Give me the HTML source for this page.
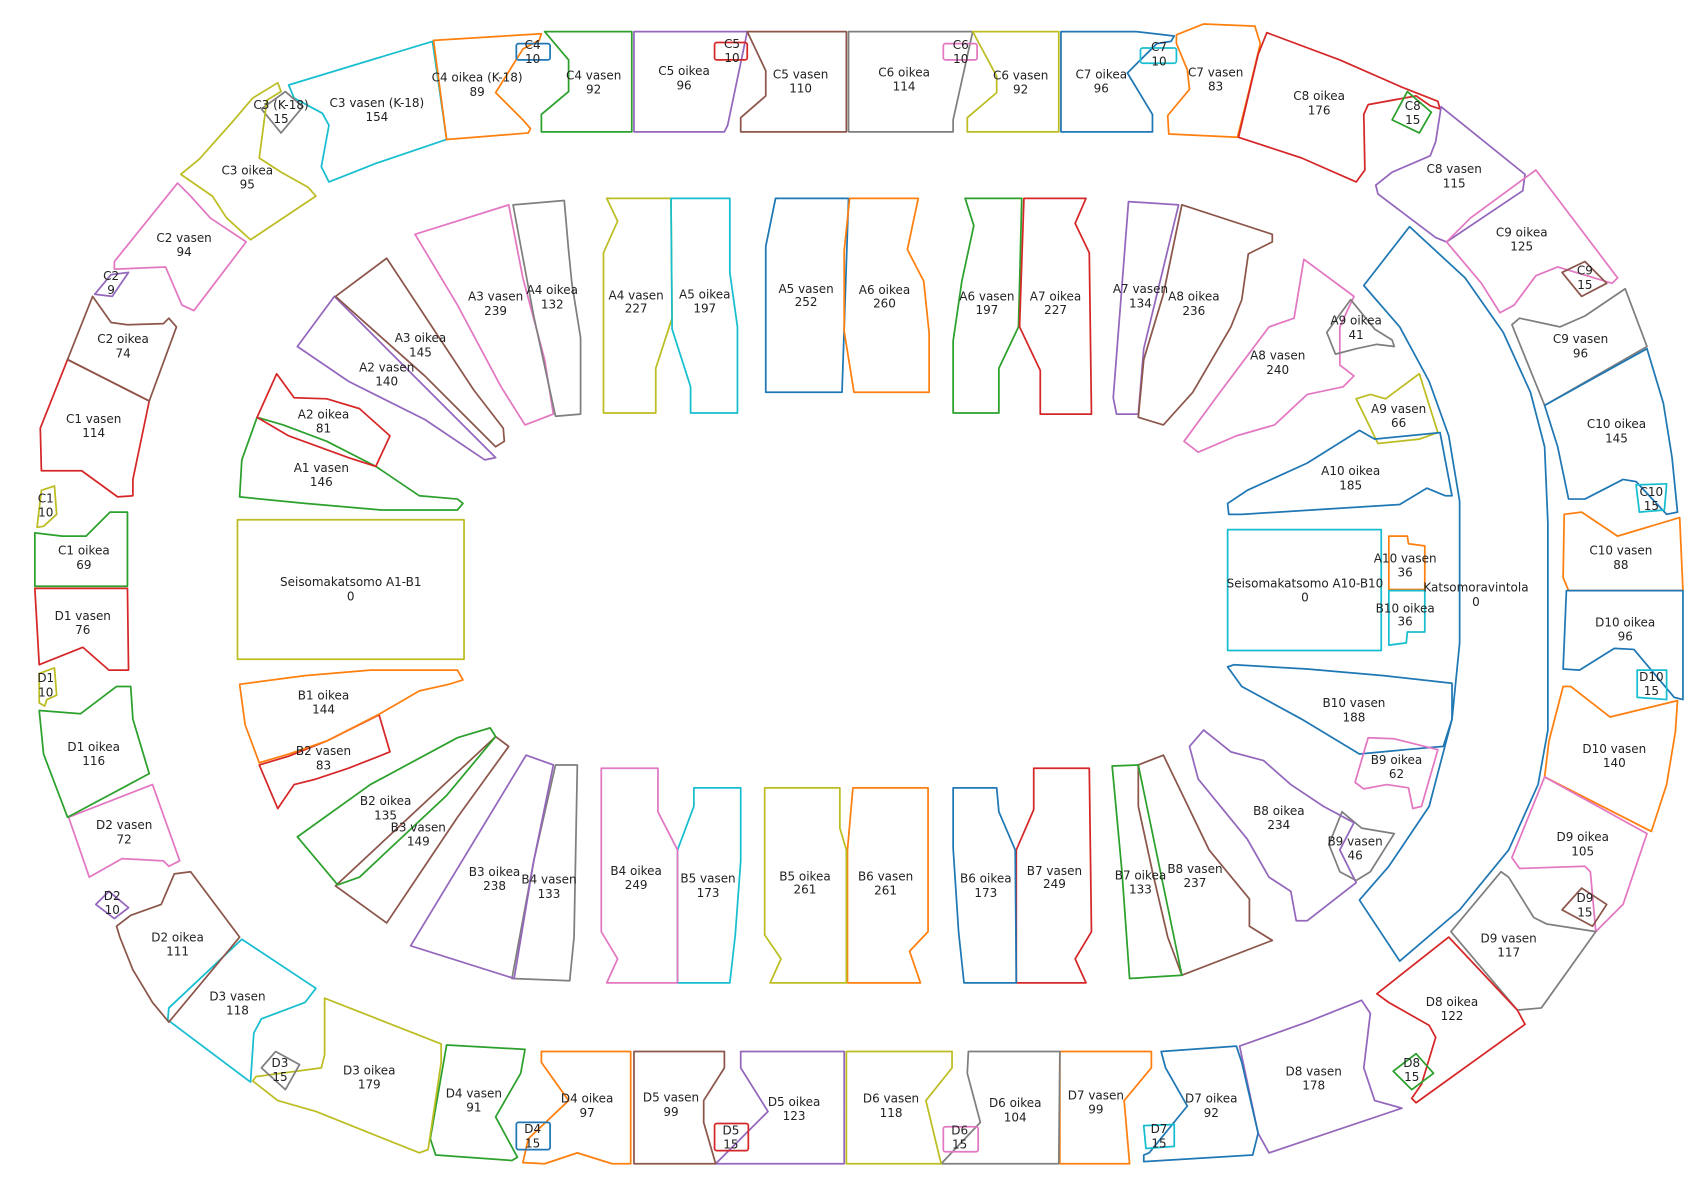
<!DOCTYPE html>
<html><head><meta charset="utf-8"><style>
html,body{margin:0;padding:0;background:#fff}
svg{display:block}
polygon,rect,path{fill:none;stroke-width:1.6;stroke-linejoin:round}
text{font-family:"DejaVu Sans","Liberation Sans",sans-serif;font-size:11px;fill:#222;text-anchor:middle}
.b{stroke:#1f77b4}.o{stroke:#ff7f0e}.g{stroke:#2ca02c}.r{stroke:#d62728}.p{stroke:#9467bd}.n{stroke:#8c564b}.k{stroke:#e377c2}.y{stroke:#7f7f7f}.l{stroke:#bcbd22}.c{stroke:#17becf}
</style></head><body>
<svg width="1708" height="1191" viewBox="0 0 1568 1093" preserveAspectRatio="none">
<!-- top C row -->
<polygon class="c" points="265,78 397,38 410,128 345,150 302,167 295,153 302,115 296,104 270,90"/>
<polygon class="y" points="240,100 262,84 278,98 258,122"/>
<polygon class="l" points="166,160 183,146 215,110 232,90 255,76 258,84 245,92 238,145 258,158 283,172 290,180 230,220 208,200 195,180"/>
<polygon class="o" points="398,37 497,31 495,37 480,45 455,85 480,110 487,118 485,122 410,128"/>
<rect class="b" x="474" y="40" width="31" height="15" rx="2"/>
<polygon class="g" points="500,29 580,29 580,121 497,121 497,105 522,84 522,55"/>
<polygon class="p" points="582,29 686,29 668,115 665,121 582,121"/>
<rect class="r" x="656" y="39" width="30" height="16" rx="2"/>
<polygon class="n" points="686,29 777,29 777,121 680,121 680,108 703,88 703,65"/>
<polygon class="y" points="779,29 893,29 875,110 875,121 779,121"/>
<rect class="k" x="866" y="40" width="31" height="15" rx="2"/>
<polygon class="l" points="893,29 972,29 972,121 888,121 888,108 915,85 915,70"/>
<polygon class="b" points="974,29 1043,29 1078,33 1075,38 1062,40 1035,67 1058,105 1058,121 974,121"/>
<rect class="c" x="1047" y="44" width="33" height="14" rx="2"/>
<polygon class="o" points="1080,32 1105,22 1152,24 1157,40 1145,90 1136,126 1073,123 1072,106 1092,82 1090,64 1080,40"/>
<polygon class="r" points="1137,126 1155,50 1163,30 1230,55 1287,80 1320,93 1322,100 1313,97 1300,88 1256,96 1252,105 1253,156 1245,167 1195,145"/>
<polygon class="g" points="1292,84 1314,103 1303,122 1278,110"/>
<polygon class="p" points="1323,98 1400,160 1398,175 1328,222 1318,218 1265,178 1263,170 1278,158 1313,143 1318,130"/>
<polygon class="k" points="1328,222 1350,200 1410,156 1485,255 1480,260 1430,245 1410,253 1390,280 1377,287 1360,260"/>
<polygon class="n" points="1434,250 1455,240 1475,260 1452,272"/>
<polygon class="y" points="1388,298 1395,292 1432,300 1455,290 1492,265 1512,318 1418,372"/>
<polygon class="b" points="1418,372 1512,320 1527,370 1535,420 1540,470 1530,472 1502,442 1490,440 1455,458 1440,458 1430,410"/>
<polygon class="c" points="1502,445 1530,444 1528,468 1505,470"/>
<polygon class="o" points="1436,472 1452,470 1485,492 1542,475 1545,542 1440,542 1435,530"/>
<polygon class="b" points="1438,542 1545,542 1545,642 1537,640 1500,596 1482,595 1450,615 1435,614"/>
<polygon class="c" points="1503,615 1530,615 1530,642 1503,640"/>
<polygon class="o" points="1435,630 1442,630 1478,658 1540,643 1538,672 1530,720 1516,763 1418,713 1422,680"/>
<polygon class="k" points="1418,713 1512,765 1490,830 1465,855 1460,800 1455,795 1395,797 1388,787"/>
<polygon class="n" points="1434,835 1452,815 1475,830 1462,850"/>
<polygon class="y" points="1332,855 1378,800 1385,805 1408,842 1420,848 1465,855 1415,925 1393,927"/>
<polygon class="r" points="1264,912 1330,860 1393,927 1400,940 1300,1012 1296,1008 1305,995 1318,952 1312,941 1275,920"/>
<polygon class="g" points="1279,983 1300,967 1316,985 1296,1000"/>
<polygon class="p" points="1138,960 1200,938 1250,918 1258,930 1252,980 1262,1010 1287,1017 1165,1058 1155,1040"/>
<polygon class="b" points="1066,965 1135,960 1140,975 1155,1040 1150,1060 1050,1066 1050,1060 1055,1058 1090,1015 1070,980"/>
<polygon class="c" points="1050,1033 1078,1032 1078,1052 1052,1054"/>
<polygon class="o" points="973,965 1057,965 1057,980 1032,1010 1037,1068 973,1068"/>
<polygon class="y" points="889,965 973,965 972,1068 864,1068 900,1030 888,985"/>
<rect class="k" x="866" y="1034" width="32" height="23" rx="2"/>
<polygon class="l" points="777,965 874,965 874,980 850,1010 864,1068 777,1068"/>
<polygon class="p" points="680,965 775,965 775,1068 657,1068 705,1020 680,980"/>
<rect class="r" x="656" y="1031" width="31" height="25" rx="2"/>
<polygon class="n" points="582,965 665,965 665,980 646,1010 646,1030 657,1068 582,1068"/>
<polygon class="o" points="497,965 579,965 579,1068 562,1068 530,1058 500,1068 480,1067 485,1045 522,1010 497,975"/>
<rect class="b" x="474" y="1030" width="31" height="25" rx="2"/>
<polygon class="g" points="410,959 482,963 478,985 455,1025 475,1062 470,1065 400,1060 395,1045"/>
<polygon class="l" points="298,916 405,958 405,975 393,1055 385,1058 290,1020 255,1010 232,992 235,988 295,980 298,968"/>
<polygon class="y" points="240,980 253,965 275,977 262,1000"/>
<polygon class="c" points="222,862 290,907 280,920 240,935 233,948 230,993 154,936 155,925"/>
<polygon class="n" points="160,802 175,800 220,860 155,938 140,920 122,890 110,860 107,850 120,840 148,830"/>
<polygon class="p" points="88,830 100,818 118,833 105,843"/>
<polygon class="k" points="63,750 140,720 165,790 155,795 150,790 112,788 82,805"/>
<polygon class="g" points="36,652 74,655 107,630 120,630 122,660 137,710 62,750 40,692"/>
<polygon class="l" points="36,618 50,613 52,638 43,642 41,648 36,645"/>
<polygon class="r" points="32,540 117,540 118,615 100,615 76,594 36,610"/>
<polygon class="g" points="32,489 57,492 79,492 101,470 117,470 117,538 32,538"/>
<polygon class="l" points="38,450 50,446 52,472 40,483 34,484"/>
<polygon class="r" points="37,393 62,330 137,368 122,440 122,455 108,456 75,432 38,432"/>
<polygon class="n" points="62,330 85,272 102,296 117,298 150,297 155,292 162,300 137,368"/>
<polygon class="p" points="87,270 102,252 118,250 103,272"/>
<polygon class="k" points="105,240 163,168 175,180 193,200 226,222 178,285 167,280 152,245 105,247"/>
<!-- inner ring -->
<polygon class="g" points="236,383 260,390 300,405 345,428 385,455 420,458 425,462 420,468 350,468 280,462 220,456 222,422"/>
<polygon class="r" points="236,383 254,343 270,365 300,366 330,375 358,400 345,428 320,420 265,400"/>
<polygon class="p" points="273,318 307,272 455,420 445,422 390,385 320,350"/>
<polygon class="n" points="308,272 355,237 435,358 462,393 463,405 455,410 390,345"/>
<polygon class="k" points="381,215 467,188 480,255 500,330 508,380 482,390 460,355 420,280"/>
<polygon class="y" points="471,188 518,184 522,230 525,260 533,310 533,380 510,382 490,290"/>
<polygon class="l" points="557,182 616,182 617,292 602,338 602,379 554,379 554,232 567,203"/>
<polygon class="c" points="616,182 670,182 670,250 677,300 677,379 634,379 634,355 617,302"/>
<polygon class="b" points="712,182 779,182 773,360 703,360 703,226"/>
<polygon class="o" points="780,182 843,182 833,229 848,258 853,306 853,360 784,360 775,304 775,230"/>
<polygon class="g" points="886,182 938,182 935,300 917,338 917,379 875,379 875,313 883,258 894,207"/>
<polygon class="r" points="940,182 997,182 987,205 1000,232 1002,380 955,380 955,340 936,300"/>
<polygon class="p" points="1036,185 1082,188 1050,320 1045,380 1025,380 1022,365"/>
<polygon class="n" points="1085,188 1168,215 1168,222 1146,233 1140,275 1130,300 1095,360 1068,390 1045,383 1050,330 1068,270"/>
<polygon class="k" points="1197,238 1243,272 1230,300 1230,335 1243,345 1233,355 1200,362 1170,390 1135,400 1100,415 1087,405 1120,360 1165,300 1188,292"/>
<polygon class="y" points="1218,305 1240,275 1262,302 1278,312 1280,318 1264,316 1245,320 1226,325"/>
<polygon class="l" points="1245,366 1258,362 1272,366 1303,343 1320,397 1303,403 1265,407"/>
<polygon class="b" points="1127,462 1145,450 1200,425 1248,395 1262,403 1322,397 1333,455 1327,455 1310,448 1285,463 1140,472 1128,472"/>
<rect class="c" x="1127" y="486" width="141" height="111"/>
<polygon class="o" points="1275,492 1292,492 1293,499 1308,501 1308,541 1275,541"/>
<polygon class="c" points="1275,542 1308,542 1308,580 1292,580 1291,590 1275,592"/>
<polygon class="b" points="1294,208 1345,255 1380,305 1405,360 1418,410 1421,480 1421,670 1412,720 1385,780 1340,835 1285,882 1248,826 1275,795 1312,740 1333,660 1340,590 1340,460 1330,400 1312,350 1285,300 1252,262"/>
<polygon class="b" points="1127,612 1133,610 1200,614 1270,620 1333,627 1333,660 1325,685 1290,688 1248,692 1195,660 1140,630"/>
<polygon class="k" points="1256,677 1280,678 1320,688 1305,740 1297,742 1293,723 1273,720 1252,724 1244,718"/>
<polygon class="y" points="1220,775 1232,745 1250,760 1280,765 1258,800 1245,808 1230,800"/>
<polygon class="p" points="1092,685 1105,670 1130,690 1160,698 1185,720 1215,740 1243,755 1230,780 1245,810 1200,845 1190,845 1185,818 1165,805 1145,770 1100,715"/>
<polygon class="n" points="1045,702 1068,693 1110,780 1147,825 1147,850 1168,863 1085,895 1072,860 1058,800 1045,740"/>
<polygon class="g" points="1021,703 1045,702 1085,895 1037,898 1030,800"/>
<polygon class="r" points="949,705 1000,705 1002,855 987,880 997,902 933,902 933,780 949,743"/>
<polygon class="b" points="875,723 915,723 917,745 932,780 933,902 885,902 880,855 875,778"/>
<polygon class="o" points="783,723 852,723 852,855 835,873 845,902 778,902 778,780"/>
<polygon class="l" points="702,723 771,723 771,760 777,780 777,902 707,902 717,880 702,858"/>
<polygon class="c" points="637,723 680,723 680,790 675,858 670,902 622,902 622,780 637,740"/>
<polygon class="k" points="552,705 604,705 604,745 622,780 622,902 557,902 567,880 552,855"/>
<polygon class="y" points="510,702 530,702 527,860 523,900 470,898 490,790"/>
<polygon class="p" points="377,868 483,693 508,702 490,790 472,898"/>
<polygon class="n" points="308,813 455,676 467,685 420,750 355,847"/>
<polygon class="g" points="273,768 340,720 420,677 450,668 455,676 410,730 330,805 310,812"/>
<polygon class="r" points="238,702 265,694 300,680 348,656 358,690 320,705 290,715 270,720 255,742"/>
<polygon class="o" points="220,628 280,620 340,615 420,615 425,624 412,628 385,634 347,656 300,680 265,692 238,700 225,665"/>
<rect class="l" x="218" y="477" width="208" height="128"/>
<!-- labels -->
<g>
<text x="346" y="98">C3 vasen (K-18)</text><text x="346" y="111">154</text>
<text x="258" y="100">C3 (K-18)</text><text x="258" y="113">15</text>
<text x="227" y="160">C3 oikea</text><text x="227" y="173">95</text>
<text x="438" y="75">C4 oikea (K-18)</text><text x="438" y="88">89</text>
<text x="489" y="45">C4</text><text x="489" y="58">10</text>
<text x="545" y="73">C4 vasen</text><text x="545" y="86">92</text>
<text x="628" y="69">C5 oikea</text><text x="628" y="82">96</text>
<text x="672" y="44">C5</text><text x="672" y="57">10</text>
<text x="735" y="72">C5 vasen</text><text x="735" y="85">110</text>
<text x="830" y="70">C6 oikea</text><text x="830" y="83">114</text>
<text x="882" y="45">C6</text><text x="882" y="58">10</text>
<text x="937" y="73">C6 vasen</text><text x="937" y="86">92</text>
<text x="1011" y="72">C7 oikea</text><text x="1011" y="85">96</text>
<text x="1064" y="47">C7</text><text x="1064" y="60">10</text>
<text x="1116" y="70">C7 vasen</text><text x="1116" y="83">83</text>
<text x="1211" y="92">C8 oikea</text><text x="1211" y="105">176</text>
<text x="1297" y="101">C8</text><text x="1297" y="114">15</text>
<text x="1335" y="159">C8 vasen</text><text x="1335" y="172">115</text>
<text x="1397" y="217">C9 oikea</text><text x="1397" y="230">125</text>
<text x="1455" y="252">C9</text><text x="1455" y="265">15</text>
<text x="1451" y="315">C9 vasen</text><text x="1451" y="328">96</text>
<text x="1484" y="393">C10 oikea</text><text x="1484" y="406">145</text>
<text x="1516" y="455">C10</text><text x="1516" y="468">15</text>
<text x="1488" y="509">C10 vasen</text><text x="1488" y="522">88</text>
<text x="1492" y="575">D10 oikea</text><text x="1492" y="588">96</text>
<text x="1516" y="625">D10</text><text x="1516" y="638">15</text>
<text x="1482" y="691">D10 vasen</text><text x="1482" y="704">140</text>
<text x="1453" y="772">D9 oikea</text><text x="1453" y="785">105</text>
<text x="1455" y="828">D9</text><text x="1455" y="841">15</text>
<text x="1385" y="865">D9 vasen</text><text x="1385" y="878">117</text>
<text x="1333" y="923">D8 oikea</text><text x="1333" y="936">122</text>
<text x="1296" y="979">D8</text><text x="1296" y="992">15</text>
<text x="1206" y="987">D8 vasen</text><text x="1206" y="1000">178</text>
<text x="1112" y="1012">D7 oikea</text><text x="1112" y="1025">92</text>
<text x="1064" y="1040">D7</text><text x="1064" y="1053">15</text>
<text x="1006" y="1009">D7 vasen</text><text x="1006" y="1022">99</text>
<text x="932" y="1016">D6 oikea</text><text x="932" y="1029">104</text>
<text x="881" y="1041">D6</text><text x="881" y="1054">15</text>
<text x="818" y="1012">D6 vasen</text><text x="818" y="1025">118</text>
<text x="729" y="1015">D5 oikea</text><text x="729" y="1028">123</text>
<text x="671" y="1041">D5</text><text x="671" y="1054">15</text>
<text x="616" y="1011">D5 vasen</text><text x="616" y="1024">99</text>
<text x="539" y="1012">D4 oikea</text><text x="539" y="1025">97</text>
<text x="489" y="1040">D4</text><text x="489" y="1053">15</text>
<text x="435" y="1007">D4 vasen</text><text x="435" y="1020">91</text>
<text x="339" y="986">D3 oikea</text><text x="339" y="999">179</text>
<text x="257" y="979">D3</text><text x="257" y="992">15</text>
<text x="218" y="918">D3 vasen</text><text x="218" y="931">118</text>
<text x="163" y="864">D2 oikea</text><text x="163" y="877">111</text>
<text x="103" y="826">D2</text><text x="103" y="839">10</text>
<text x="114" y="761">D2 vasen</text><text x="114" y="774">72</text>
<text x="86" y="689">D1 oikea</text><text x="86" y="702">116</text>
<text x="42" y="626">D1</text><text x="42" y="639">10</text>
<text x="76" y="569">D1 vasen</text><text x="76" y="582">76</text>
<text x="77" y="509">C1 oikea</text><text x="77" y="522">69</text>
<text x="42" y="461">C1</text><text x="42" y="474">10</text>
<text x="86" y="388">C1 vasen</text><text x="86" y="401">114</text>
<text x="113" y="315">C2 oikea</text><text x="113" y="328">74</text>
<text x="102" y="257">C2</text><text x="102" y="270">9</text>
<text x="169" y="222">C2 vasen</text><text x="169" y="235">94</text>
<text x="295" y="433">A1 vasen</text><text x="295" y="446">146</text>
<text x="297" y="384">A2 oikea</text><text x="297" y="397">81</text>
<text x="355" y="341">A2 vasen</text><text x="355" y="354">140</text>
<text x="386" y="314">A3 oikea</text><text x="386" y="327">145</text>
<text x="455" y="276">A3 vasen</text><text x="455" y="289">239</text>
<text x="507" y="270">A4 oikea</text><text x="507" y="283">132</text>
<text x="584" y="275">A4 vasen</text><text x="584" y="287">227</text>
<text x="647" y="274">A5 oikea</text><text x="647" y="287">197</text>
<text x="740" y="269">A5 vasen</text><text x="740" y="281">252</text>
<text x="812" y="270">A6 oikea</text><text x="812" y="282">260</text>
<text x="906" y="276">A6 vasen</text><text x="906" y="288">197</text>
<text x="969" y="276">A7 oikea</text><text x="969" y="288">227</text>
<text x="1047" y="269">A7 vasen</text><text x="1047" y="282">134</text>
<text x="1096" y="276">A8 oikea</text><text x="1096" y="289">236</text>
<text x="1173" y="330">A8 vasen</text><text x="1173" y="343">240</text>
<text x="1245" y="298">A9 oikea</text><text x="1245" y="311">41</text>
<text x="1284" y="379">A9 vasen</text><text x="1284" y="392">66</text>
<text x="1240" y="436">A10 oikea</text><text x="1240" y="449">185</text>
<text x="1198" y="539">Seisomakatsomo A10-B10</text><text x="1198" y="552">0</text>
<text x="1290" y="516">A10 vasen</text><text x="1290" y="529">36</text>
<text x="1290" y="562">B10 oikea</text><text x="1290" y="574">36</text>
<text x="1355" y="543">Katsomoravintola</text><text x="1355" y="556">0</text>
<text x="1243" y="649">B10 vasen</text><text x="1243" y="662">188</text>
<text x="1282" y="701">B9 oikea</text><text x="1282" y="714">62</text>
<text x="1244" y="776">B9 vasen</text><text x="1244" y="789">46</text>
<text x="1174" y="748">B8 oikea</text><text x="1174" y="761">234</text>
<text x="1097" y="801">B8 vasen</text><text x="1097" y="814">237</text>
<text x="1047" y="807">B7 oikea</text><text x="1047" y="820">133</text>
<text x="968" y="803">B7 vasen</text><text x="968" y="815">249</text>
<text x="905" y="810">B6 oikea</text><text x="905" y="823">173</text>
<text x="813" y="808">B6 vasen</text><text x="813" y="821">261</text>
<text x="739" y="808">B5 oikea</text><text x="739" y="820">261</text>
<text x="650" y="810">B5 vasen</text><text x="650" y="823">173</text>
<text x="584" y="803">B4 oikea</text><text x="584" y="816">249</text>
<text x="504" y="811">B4 vasen</text><text x="504" y="824">133</text>
<text x="454" y="804">B3 oikea</text><text x="454" y="817">238</text>
<text x="384" y="763">B3 vasen</text><text x="384" y="776">149</text>
<text x="354" y="739">B2 oikea</text><text x="354" y="752">135</text>
<text x="297" y="693">B2 vasen</text><text x="297" y="706">83</text>
<text x="297" y="642">B1 oikea</text><text x="297" y="655">144</text>
<text x="322" y="538">Seisomakatsomo A1-B1</text><text x="322" y="551">0</text>
</g>
</svg>
</body></html>
